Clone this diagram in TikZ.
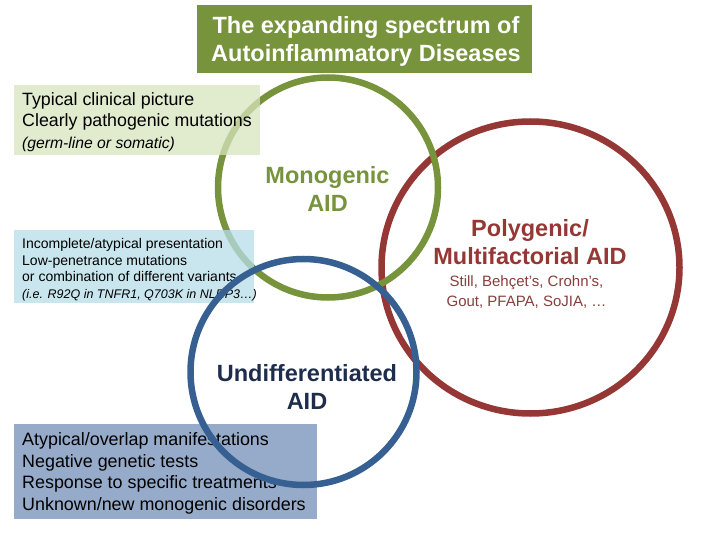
\documentclass[tikz,border=0pt]{standalone}
\usepackage{fontspec}
\setmainfont{Liberation Sans}
\usetikzlibrary{positioning}
\definecolor{aidgreen}{RGB}{119,147,60}
\definecolor{aidred}{RGB}{149,55,53}
\definecolor{aidblue}{RGB}{55,96,146}
\definecolor{aidnavy}{RGB}{30,45,75}
\definecolor{stillred}{RGB}{135,62,60}
\definecolor{boxgreen}{RGB}{215,228,189}
\definecolor{boxblue}{RGB}{183,222,232}
\definecolor{boxslate}{RGB}{149,171,201}
\tikzset{
  ring/.style={line width=6.5pt},
  titlebox/.style={fill=aidgreen, text=white, align=center, inner sep=0pt,
    minimum width=335pt, minimum height=68pt,
    font=\bfseries\fontsize{23.5}{28}\selectfont},
  infobox/.style={anchor=north west, inner sep=0pt, fill opacity=0.75},
  boxtext/.style={align=left, inner sep=0pt},
  aidlabel/.style={align=center, inner sep=0pt, font=\bfseries\fontsize{23.5}{28}\selectfont}
}
\begin{document}
\begin{tikzpicture}[x=1pt, y=-1pt]
			\useasboundingbox (0,0) rectangle (720,540);
			\coordinate (M) at (328,187.5);
			\coordinate (P) at (530.5,267.5);
			\coordinate (U) at (303.5,372);
			
			% rings under the boxes
			\draw[ring, aidred] (P) ellipse (149pt and 146pt);
			\draw[ring, aidgreen] (M) circle (110pt);
			
			\node[titlebox, text depth=0pt] (title) at (364.5,39) {};
			\node[align=center, inner sep=0pt, text=white, font=\bfseries\fontsize{23.5}{27.5}\selectfont]
				(titletext) at (366,41.5) {The expanding spectrum of\\Autoinflammatory Diseases};
			
			\node[infobox, fill=boxgreen, minimum width=246pt, minimum height=70pt] (typical) at (14,85) {};
			\node[infobox, fill=boxblue, minimum width=240pt, minimum height=73pt] (incomplete) at (14,230) {};
			\node[infobox, fill=boxslate, fill opacity=1, minimum width=303pt, minimum height=95pt] (atypical) at (14,424) {};
			
			\node[boxtext, font=\fontsize{17.8}{21.5}\selectfont, right=8pt of typical.west, yshift=-1.5pt] (typicaltext)
				{Typical clinical picture\\Clearly pathogenic mutations\\
				{\itshape\fontsize{15.7}{20.5}\selectfont (germ-line or somatic)}};
			\node[boxtext, font=\fontsize{14}{16.5}\selectfont, right=8pt of incomplete.west, yshift=-3pt] (incompletetext)
				{Incomplete/atypical presentation\\Low-penetrance mutations\\or combination of different variants\\
				{\itshape\fontsize{12.5}{17}\selectfont (i.e. R92Q in TNFR1, Q703K in NLRP3…)}};
			\node[boxtext, font=\fontsize{17.9}{21.5}\selectfont, right=8pt of atypical.west, yshift=-1.5pt] (atypicaltext)
				{Atypical/overlap manifestations\\Negative genetic tests\\Response to specific treatments\\Unknown/new monogenic disorders};
			
			\draw[ring, aidblue] (U) circle (113pt);
			
			\node[aidlabel, text=aidgreen] (mono) at (327.5,188.5) {Monogenic\\AID};
			\node[aidlabel, text=aidred] (poly) at (530,242.5) {Polygenic/\\Multifactorial AID};
			\node[align=center, inner sep=0pt, text=stillred, font=\fontsize{15}{19.5}\selectfont] (still) at (526.5,292)
				{Still, Behçet’s, Crohn’s,\\Gout, PFAPA, SoJIA, …};
			\node[aidlabel, text=aidnavy] (undiff) at (307,387) {Undifferentiated\\AID};
		\end{tikzpicture}
\end{document}
